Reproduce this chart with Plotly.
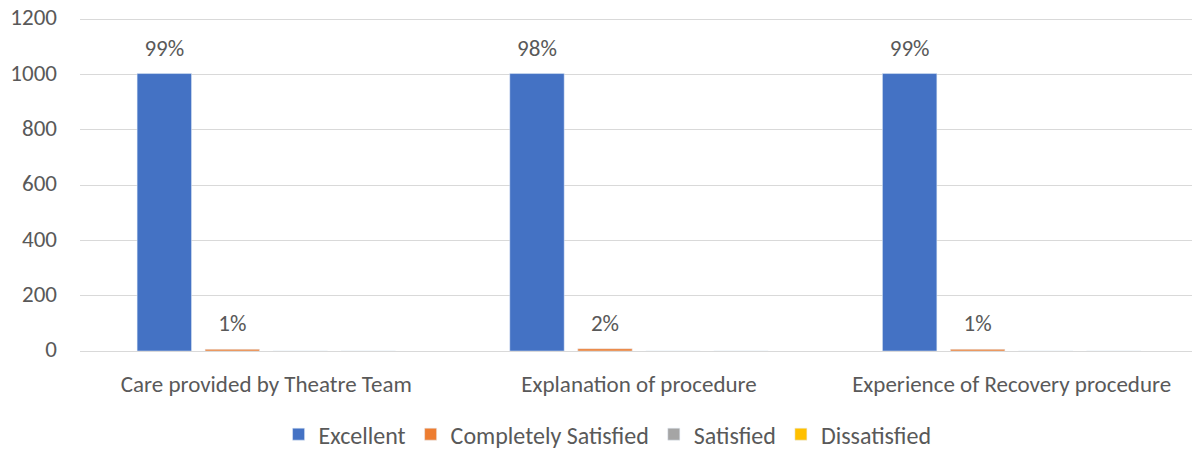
import plotly.graph_objects as go

categories = ["Care provided by Theatre Team", "Explanation of procedure", "Experience of Recovery procedure"]
series_names = ["Excellent", "Completely Satisfied", "Satisfied", "Dissatisfied"]
excellent = [1004, 1004, 1004]
completely_satisfied = [6, 8, 6]
satisfied = [0, 0, 0]
dissatisfied = [0, 0, 0]
excellent_labels = ["99%", "98%", "99%"]
completely_labels = ["1%", "2%", "1%"]
y_ticks = [0, 200, 400, 600, 800, 1000, 1200]

colors = ["#4472C4", "#ED7D31", "#A5A5A5", "#FFC000"]
values = [excellent, completely_satisfied, satisfied, dissatisfied]
labels = [excellent_labels, completely_labels, None, None]

font_family = "Carlito, Calibri, Lato, 'Open Sans', sans-serif"
text_color = "#595959"
FS = 23
pad = "<span style='font-size:54px'> </span>"

fig = go.Figure()
for name, vals, col, lab in zip(series_names, values, colors, labels):
    txt = [pad + l + pad for l in lab] if lab else None
    fig.add_trace(go.Bar(
        x=categories, y=vals, name=name, marker_color=col,
        text=txt, textposition="outside" if lab else "none",
        textfont=dict(size=FS, color=text_color, family=font_family),
        constraintext="none", cliponaxis=False,
    ))

# page body has an 8px margin, so the figure is 8px smaller than the window
fig.update_layout(
    width=1192, height=442,
    margin=dict(l=72, r=2, t=10, b=99, autoexpand=False),
    paper_bgcolor="white", plot_bgcolor="white",
    barmode="group", bargap=0.27, bargroupgap=0.2,
    font=dict(family=font_family, size=FS, color=text_color),
    showlegend=True,
    legend=dict(orientation="h", x=0.503, xanchor="center", xref="container",
                y=0.035, yanchor="middle", yref="container", itemwidth=30,
                font=dict(size=24, color=text_color), traceorder="normal"),
    xaxis=dict(showgrid=False, showline=True, linecolor="#D9D9D9", linewidth=1,
               tickfont=dict(size=FS, color=text_color), ticks="", automargin=False,
               ticklabelstandoff=12),
    yaxis=dict(range=[0, 1205], tickvals=y_ticks, showgrid=True, gridcolor="#D9D9D9",
               gridwidth=1, zeroline=False, showline=False, automargin=False,
               ticklabeloverflow="allow", ticklabelshift=-2,
               tickfont=dict(size=FS, color=text_color), ticks="", ticklabelstandoff=22),
)

fig.write_html("out.html")
